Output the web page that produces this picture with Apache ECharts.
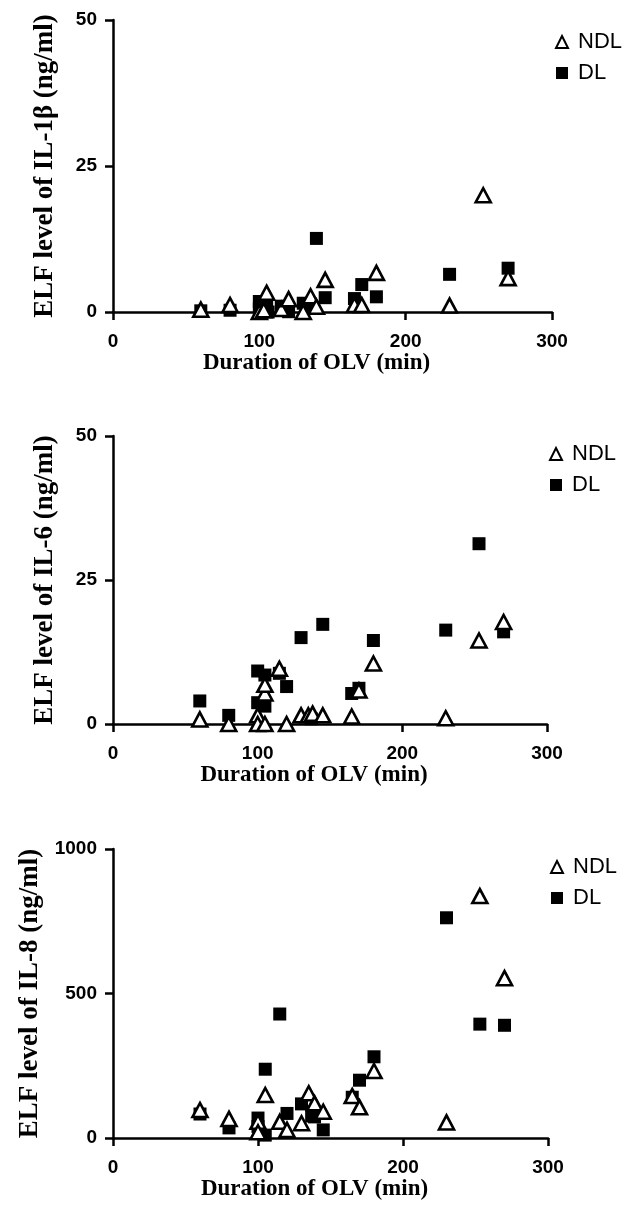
<!DOCTYPE html>
<html>
<head>
<meta charset="utf-8">
<script src="https://cdn.jsdelivr.net/npm/echarts@6/dist/echarts.min.js"></script>
<style>html,body{margin:0;padding:0;background:#fff}#c{width:629px;height:1209px}</style>
</head>
<body>
<div id="c"></div>
<script>
// ---- data ----
var xTicks = [0, 100, 200, 300];
var seriesNames = ['NDL', 'DL'];
var yTitles = ['ELF level of IL-1β (ng/ml)', 'ELF level of IL-6 (ng/ml)', 'ELF level of IL-8 (ng/ml)'];
var xTitle = 'Duration of OLV (min)';
var yMax = [50, 50, 1000];
var yStep = [25, 25, 500];

var il1b_NDL = [[60,0.4],[80,1.2],[100,0],[103,0.3],[105,3.3],[115,0.5],[120,2.2],[130,0],[135,2.7],[139,0.9],[145,5.5],[165,1.2],[170,1.2],[180,6.7],[230,1.1],[253,20.0],[270,5.8]];
var il1b_DL = [[60,0.2],[80,0.3],[100,1.8],[100,0.5],[105,1.0],[106,0],[115,1.0],[120,0.05],[130,1.5],[137,0.8],[139,12.6],[145,2.45],[165,2.3],[170,4.7],[180,2.6],[230,6.45],[270,7.5]];

var il6_NDL = [[60,0.8],[80,0],[100,1.5],[100,0],[105,0],[105,5.3],[105,6.8],[115,9.6],[120,0],[130,1.5],[135,1.5],[138,1.8],[145,1.5],[165,1.3],[170,5.8],[180,10.5],[230,1.0],[253,14.5],[270,17.7]];
var il6_DL = [[60,4.0],[80,1.5],[100,9.2],[100,3.7],[105,8.5],[105,3.1],[115,8.8],[120,6.5],[130,15.0],[137,0.9],[145,17.3],[165,5.3],[170,6.2],[180,14.5],[230,16.3],[253,31.3],[270,16.0]];

var il8_NDL = [[60,97],[80,66],[100,56],[100,20],[105,149],[115,56],[120,28],[130,51],[135,155],[139,120],[145,91],[165,145],[170,106],[180,232],[230,54],[253,837],[270,553]];
var il8_DL = [[60,83],[80,35],[100,69],[100,40],[105,238],[105,10],[115,429],[120,85],[130,118],[137,76],[139,73],[145,28],[165,141],[170,200],[180,281],[230,762],[253,394],[270,390]];

var panelsNDL = [il1b_NDL, il6_NDL, il8_NDL];
var panelsDL = [il1b_DL, il6_DL, il8_DL];

// ---- layout ----
var grids = [
  {left: 113, top: 20, width: 439, height: 292},
  {left: 113, top: 436, width: 434, height: 288},
  {left: 113, top: 849, width: 435, height: 289}
];
var legendPos = [{left: 550, top: 26}, {left: 544, top: 438}, {left: 545, top: 851}];

var sans = 'Liberation Sans, Arial, sans-serif';
var serif = 'Liberation Serif, Times New Roman, serif';
function mkLine() { return {show: true, onZero: false, lineStyle: {color: '#000', width: 2.5}}; }
function mkTick() { return {show: true, inside: false, length: 8, lineStyle: {color: '#000', width: 2.5}}; }

var xAxes = [], yAxes = [], series = [], legends = [];
for (var i = 0; i < 3; i++) {
  xAxes.push({
    gridIndex: i, type: 'value', min: xTicks[0], max: xTicks[xTicks.length - 1], interval: 100,
    axisLine: mkLine(), axisTick: mkTick(), splitLine: {show: false},
    axisLabel: {color: '#000', fontFamily: sans, fontWeight: 'bold', fontSize: 19, margin: 20,
      formatter: function (v) { return String(v); }},
    name: xTitle, nameLocation: 'middle', nameGap: 39,
    nameTextStyle: {color: '#000', fontFamily: serif, fontWeight: 'bold', fontSize: 23, padding: [0, 32, 0, 0]}
  });
  yAxes.push({
    gridIndex: i, type: 'value', min: 0, max: yMax[i], interval: yStep[i],
    axisLine: mkLine(), axisTick: mkTick(), splitLine: {show: false},
    axisLabel: {color: '#000', fontFamily: sans, fontWeight: 'bold', fontSize: 19, margin: 16,
      formatter: function (v) { return String(v); }},
    name: yTitles[i], nameLocation: 'middle', nameGap: 54,
    nameTextStyle: {color: '#000', fontFamily: serif, fontWeight: 'bold', fontSize: 27}
  });
  series.push({
    name: seriesNames[1], type: 'scatter', xAxisIndex: i, yAxisIndex: i,
    symbol: 'rect', symbolSize: 13, data: panelsDL[i],
    itemStyle: {color: '#000', opacity: 1}, z: 2
  });
  series.push({
    name: seriesNames[0], type: 'scatter', xAxisIndex: i, yAxisIndex: i,
    symbol: 'triangle', symbolSize: [15, 14], data: panelsNDL[i],
    itemStyle: {color: '#fff', borderColor: '#000', borderWidth: 2.6, opacity: 1}, z: 3
  });
  legends.push({
    left: legendPos[i].left, top: legendPos[i].top, orient: 'vertical',
    data: seriesNames, itemWidth: 12, itemHeight: 12, itemGap: 9, selectedMode: false,
    textStyle: {color: '#000', fontFamily: sans, fontSize: 22, padding: [0, 0, 0, 5]}
  });
}

var chart = echarts.init(document.getElementById('c'), null, {renderer: 'canvas'});
chart.setOption({
  animation: false,
  backgroundColor: '#fff',
  grid: grids,
  xAxis: xAxes,
  yAxis: yAxes,
  legend: legends,
  series: series
});
</script>
</body>
</html>
